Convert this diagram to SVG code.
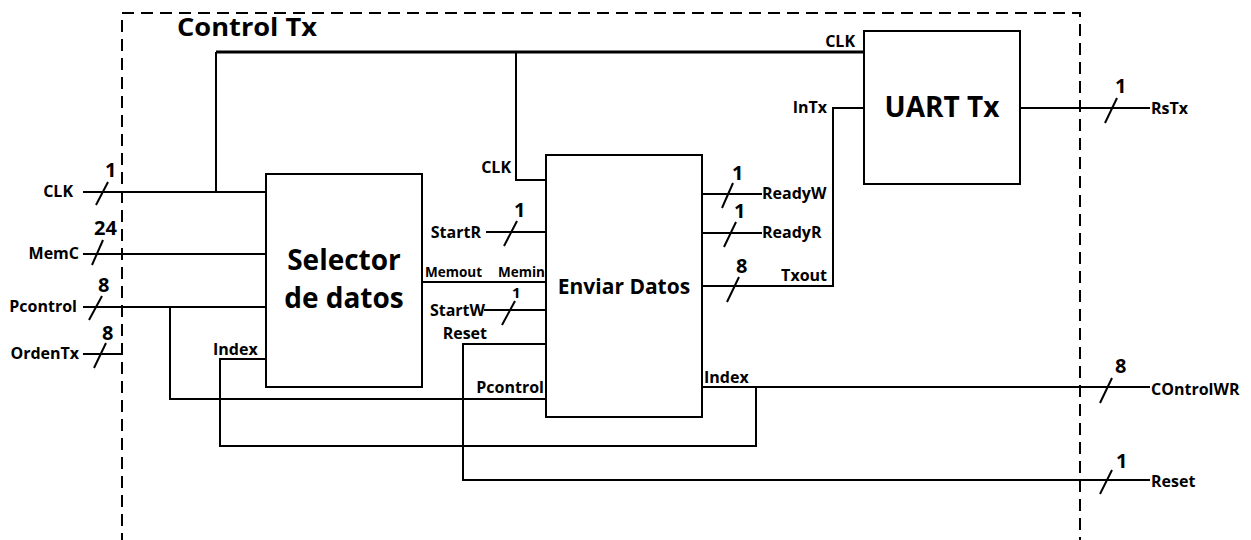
<svg xmlns="http://www.w3.org/2000/svg" width="1251" height="540" viewBox="0 0 1251 540">
  <style>
    .frame { fill: none; stroke: #000; stroke-width: 2; stroke-dasharray: 12 7; }
    .box { fill: #fff; stroke: #000; stroke-width: 2; }
    .wire { fill: none; stroke: #000; stroke-width: 2; }
    .clk { fill: none; stroke: #000; stroke-width: 3; }
    .bus { fill: none; stroke: #000; stroke-width: 2; }
    text { font-family: "Open Sans", Lato, sans-serif; font-weight: bold; fill: #000; }
    .title { font-size: 25px; }
    .block { font-size: 28px; }
    .block2 { font-size: 21px; }
    .lbl { font-size: 16px; }
    .sm { font-size: 13.5px; }
    .num { font-size: 20px; }
    .num-sm { font-size: 15px; }
    .end { text-anchor: end; }
    .mid { text-anchor: middle; }
  </style>

  <rect width="1251" height="540" fill="#fff"/>

  <!-- Control Tx boundary -->
  <g id="control-tx">
    <path class="frame" d="M122,545 V13 H1080 V545"/>
    <text class="title" x="177" y="36" textLength="140" lengthAdjust="spacingAndGlyphs">Control Tx</text>
  </g>

  <!-- Connectors -->
  <g id="connectors">
    <!-- clock distribution -->
    <path class="wire" d="M83,192 H266"/>
    <path class="wire" d="M216,192 V52"/>
    <path class="clk" d="M216,52 H864"/>
    <path class="wire" d="M516,52 V180 H546"/>
    <!-- inputs -->
    <path class="wire" d="M83,254 H266"/>
    <path class="wire" d="M83,307 H266"/>
    <path class="wire" d="M170,307 V399 H546"/>
    <path class="wire" d="M83,354 H123"/>
    <!-- index loop -->
    <path class="wire" d="M266,359 H220 V446 H756 V387"/>
    <path class="wire" d="M702,387 H1150"/>
    <!-- selector to enviar -->
    <path class="wire" d="M486,232 H546"/>
    <path class="wire" d="M422,282 H546"/>
    <path class="wire" d="M484,310 H546"/>
    <!-- reset -->
    <path class="wire" d="M546,344 H463 V480 H1150"/>
    <!-- enviar outputs -->
    <path class="wire" d="M702,194 H762"/>
    <path class="wire" d="M702,233 H762"/>
    <path class="wire" d="M702,286 H833 V108 H864"/>
    <!-- uart output -->
    <path class="wire" d="M1020,108 H1150"/>

    <!-- bus width slashes -->
    <path class="bus" d="M96,205 L108,182"/>
    <path class="bus" d="M92,265 L103,240"/>
    <path class="bus" d="M89,320 L102,296"/>
    <path class="bus" d="M94,368 L106,343"/>
    <path class="bus" d="M504,246 L517,221"/>
    <path class="bus" d="M502,325 L515,301"/>
    <path class="bus" d="M722,208 L733,183"/>
    <path class="bus" d="M724,247 L736,222"/>
    <path class="bus" d="M727,302 L739,277"/>
    <path class="bus" d="M1105,123 L1117,98"/>
    <path class="bus" d="M1100,403 L1112,378"/>
    <path class="bus" d="M1100,494 L1112,470"/>

    <!-- bus widths -->
    <text class="num" x="105" y="177">1</text>
    <text class="num" x="94" y="235">24</text>
    <text class="num" x="98" y="292">8</text>
    <text class="num" x="102" y="340">8</text>
    <text class="num" x="514" y="217">1</text>
    <text class="num-sm" x="512" y="298">1</text>
    <text class="num" x="732" y="180">1</text>
    <text class="num" x="734" y="218">1</text>
    <text class="num" x="736" y="273">8</text>
    <text class="num" x="1115" y="93">1</text>
    <text class="num" x="1115" y="373">8</text>
    <text class="num" x="1116" y="468">1</text>

    <!-- port labels -->
    <text class="lbl end" x="73" y="197">CLK</text>
    <text class="lbl end" x="79" y="259">MemC</text>
    <text class="lbl end" x="77" y="312">Pcontrol</text>
    <text class="lbl end" x="79" y="359">OrdenTx</text>
    <text class="lbl" x="213" y="355">Index</text>
    <text class="lbl end" x="511" y="173">CLK</text>
    <text class="lbl end" x="481" y="238">StartR</text>
    <text class="sm" x="425" y="277">Memout</text>
    <text class="sm end" x="545" y="277">Memin</text>
    <text class="lbl end" x="485" y="316">StartW</text>
    <text class="lbl end" x="487" y="339">Reset</text>
    <text class="lbl end" x="544" y="393">Pcontrol</text>
    <text class="lbl" x="704" y="383">Index</text>
    <text class="lbl" x="762" y="199">ReadyW</text>
    <text class="lbl" x="762" y="238">ReadyR</text>
    <text class="lbl end" x="827" y="281">Txout</text>
    <text class="lbl end" x="827" y="113">InTx</text>
    <text class="lbl end" x="855" y="47">CLK</text>
    <text class="lbl" x="1151" y="114">RsTx</text>
    <text class="lbl" x="1151" y="395">COntrolWR</text>
    <text class="lbl" x="1151" y="487">Reset</text>
  </g>

  <!-- Selector de datos -->
  <g id="selector-datos">
    <rect class="box" x="266" y="174" width="156" height="213"/>
    <text class="block mid" x="344" y="270">Selector</text>
    <text class="block mid" x="344" y="308">de datos</text>
  </g>

  <!-- Enviar Datos -->
  <g id="enviar-datos">
    <rect class="box" x="546" y="155" width="156" height="262"/>
    <text class="block2 mid" x="624" y="294">Enviar Datos</text>
  </g>

  <!-- UART Tx -->
  <g id="uart-tx">
    <rect class="box" x="864" y="31" width="156" height="153"/>
    <text class="block mid" x="942" y="117">UART Tx</text>
  </g>
</svg>
